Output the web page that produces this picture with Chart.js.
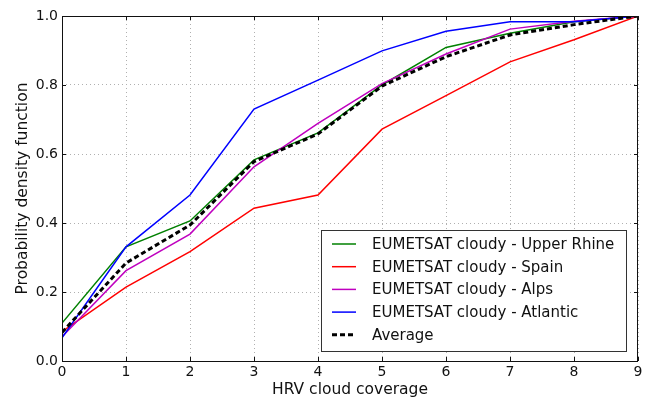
<!DOCTYPE html>
<html>
<head>
<meta charset="utf-8">
<script src="https://cdn.jsdelivr.net/npm/chart.js@4/dist/chart.umd.min.js"></script>
<style>
html,body{margin:0;padding:0;background:#fff;}
#wrap{width:648px;height:401px;position:relative;}
</style>
</head>
<body>
<div id="wrap"><canvas id="c" width="648" height="401"></canvas></div>
<script>
const coverage = [0,1,2,3,4,5,6,7,8,9];
const upperRhine = [0.110,0.331,0.406,0.583,0.661,0.800,0.909,0.950,0.983,1.0];
const spain      = [0.085,0.214,0.317,0.443,0.481,0.672,0.769,0.867,0.931,1.0];
const alps       = [0.070,0.262,0.368,0.563,0.689,0.804,0.890,0.962,0.985,1.0];
const atlantic   = [0.067,0.331,0.481,0.730,0.814,0.899,0.956,0.983,0.983,1.0];
const average    = [0.083,0.284,0.394,0.578,0.658,0.797,0.882,0.945,0.975,1.0];
const yTicks = [0,0.2,0.4,0.6,0.8,1.0];
const xTicks = [0,1,2,3,4,5,6,7,8,9];

const pts = arr => arr.map((v,i)=>({x:coverage[i], y:v}));
const FONT = "'DejaVu Sans', sans-serif";

const frameAndLegend = {
  id:'frameAndLegend',
  afterDatasetsDraw(chart){
    const ctx = chart.ctx, a = chart.chartArea;
    const xs = chart.scales.x, ys = chart.scales.y;
    ctx.save();
    ctx.strokeStyle = '#111';
    ctx.lineWidth = 1;
    ctx.strokeRect(Math.round(a.left)+0.5, Math.round(a.top)+0.5, Math.round(a.right-a.left)-1, Math.round(a.bottom-a.top));
    ctx.beginPath();
    xTicks.forEach(v=>{
      const px = Math.round(xs.getPixelForValue(v))+0.5;
      ctx.moveTo(px, a.bottom); ctx.lineTo(px, a.bottom-4);
      ctx.moveTo(px, a.top); ctx.lineTo(px, a.top+4);
    });
    yTicks.forEach(v=>{
      const py = Math.round(ys.getPixelForValue(v))+0.5;
      ctx.moveTo(a.left, py); ctx.lineTo(a.left+4, py);
      ctx.moveTo(a.right, py); ctx.lineTo(a.right-4, py);
    });
    ctx.stroke();
    const bx = 321, by = 230, bw = 305, bh = 121;
    ctx.fillStyle = '#fff';
    ctx.fillRect(bx, by, bw, bh);
    ctx.strokeStyle = '#333';
    ctx.strokeRect(bx+0.5, by+0.5, bw, bh);
    ctx.font = "15px " + FONT;
    ctx.textBaseline = 'middle';
    chart.data.datasets.forEach((ds,i)=>{
      const y = 244 + i*22.7;
      ctx.beginPath();
      ctx.strokeStyle = ds.borderColor;
      ctx.lineWidth = ds.borderWidth;
      ctx.setLineDash(ds.borderDash || []);
      ctx.moveTo(332, y); ctx.lineTo(356, y);
      ctx.stroke();
      ctx.setLineDash([]);
      ctx.fillStyle = '#111';
      ctx.fillText(ds.label, 372, y+1);
    });
    ctx.restore();
  }
};

new Chart(document.getElementById('c'), {
  type:'line',
  data:{
    datasets:[
      {label:'EUMETSAT cloudy - Upper Rhine', data:pts(upperRhine), borderColor:'#008000', borderWidth:1.5, order:4},
      {label:'EUMETSAT cloudy - Spain', data:pts(spain), borderColor:'#ff0000', borderWidth:1.5, order:3},
      {label:'EUMETSAT cloudy - Alps', data:pts(alps), borderColor:'#bf00bf', borderWidth:1.5, order:2},
      {label:'EUMETSAT cloudy - Atlantic', data:pts(atlantic), borderColor:'#0000ff', borderWidth:1.5, order:1},
      {label:'Average', data:pts(average), borderColor:'#000000', borderWidth:3, borderDash:[5,3], order:0}
    ]
  },
  options:{
    responsive:false,
    animation:false,
    devicePixelRatio:1,
    elements:{point:{radius:0}, line:{tension:0, fill:false}},
    layout:{padding:{left:0,right:10,top:16,bottom:0}},
    plugins:{legend:{display:false}, tooltip:{enabled:false}},
    scales:{
      x:{
        type:'linear', min:0, max:9,
        afterFit(s){ s.height = 40; },
        afterBuildTicks(s){ s.ticks = xTicks.map(v=>({value:v})); },
        ticks:{font:{family:FONT,size:14}, color:'#111', padding:3, maxRotation:0},
        grid:{color:'#b0b0b0', drawTicks:false, lineWidth:1},
        border:{display:false, dash:[1,3]},
        title:{display:true, text:'HRV cloud coverage', font:{family:FONT,size:15.5}, color:'#111', padding:{top:0,bottom:2}}
      },
      y:{
        type:'linear', min:0, max:1,
        afterFit(s){ s.width = 62; },
        afterBuildTicks(s){ s.ticks = yTicks.map(v=>({value:v})); },
        ticks:{font:{family:FONT,size:14}, color:'#111', padding:4, callback:v=>Number(v).toFixed(1)},
        grid:{color:'#b0b0b0', drawTicks:false, lineWidth:1},
        border:{display:false, dash:[1,3]},
        title:{display:true, text:'Probability density function', font:{family:FONT,size:15.5}, color:'#111', padding:{top:14,bottom:14}}
      }
    }
  },
  plugins:[frameAndLegend]
});
</script>
</body>
</html>
